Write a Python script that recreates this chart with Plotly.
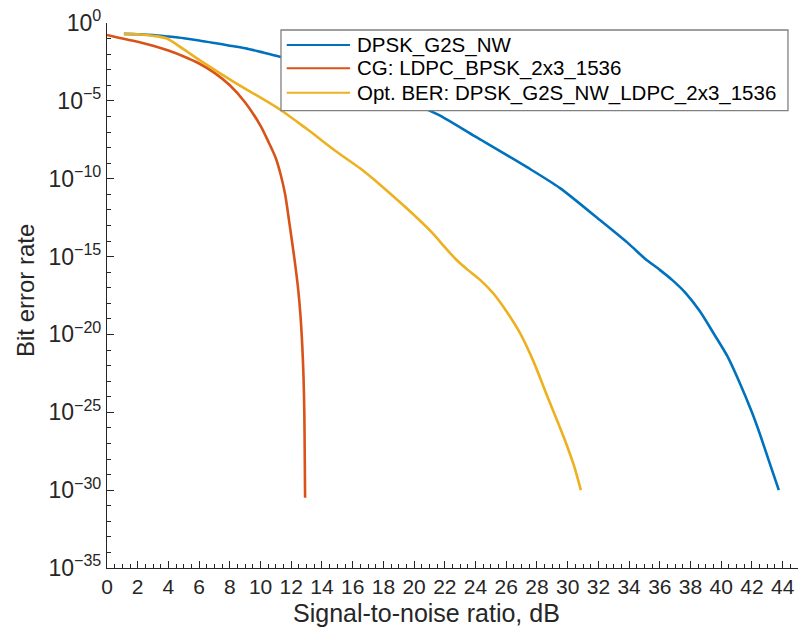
import plotly.graph_objects as go

# ---- data ----
snr_dpsk = [1.1, 2, 3, 4, 5, 6, 7, 8, 9, 10, 11.26, 13, 15, 17, 19, 21.5, 24, 27.3,
            29.5, 32.1, 34, 35, 36, 36.8, 37.7, 38.6, 39.5, 40.4, 41.2, 42, 42.5, 43.1, 43.75]
ber_dpsk = [2.0e-1, 1.9e-1, 1.7e-1, 1.35e-1, 1.05e-1, 7.6e-2, 5.2e-2, 3.5e-2, 2.4e-2,
            1.4e-2, 6.9e-3, 2.2e-3, 5.0e-4, 1.0e-4, 1.6e-5, 1.4e-6, 5.0e-8, 5.9e-10,
            2.5e-11, 2.2e-13, 6.3e-15, 7.9e-16, 1.4e-16, 3.2e-17, 4.4e-18, 3.2e-19,
            1.2e-20, 4.0e-22, 7.9e-24, 1.0e-25, 4.5e-27, 7.9e-29, 1.0e-30]

snr_cg = [0, 1, 2, 3, 4, 5, 6, 7, 8, 9, 10, 10.5, 11, 11.3, 11.6, 11.9, 12.2, 12.45,
          12.6, 12.72, 12.8, 12.85, 12.88, 12.9]
ber_cg = [1.7e-1, 1.0e-1, 6.3e-2, 3.5e-2, 1.7e-2, 7.1e-3, 2.5e-3, 6.3e-4, 1.0e-4,
          7.9e-6, 2.5e-7, 2.5e-8, 2.0e-9, 2.0e-10, 1.0e-11, 1.0e-13, 7.9e-16, 7.9e-18,
          1.6e-19, 1.6e-21, 1.6e-23, 1.0e-25, 1.0e-28, 3.2e-31]

snr_opt = [1.1, 2, 3, 3.9, 5, 6.05, 8.2, 11.26, 13, 15, 16.5, 17.8, 19.5, 21.2, 22,
           22.8, 23.5, 24.3, 25.15, 26, 26.9, 27.8, 28.6, 29.3, 29.9, 30.4, 30.86]
ber_opt = [2.0e-1, 1.9e-1, 1.5e-1, 1.0e-1, 2.0e-2, 4.0e-3, 1.8e-4, 2.8e-6, 1.6e-7,
           5.0e-9, 4.5e-10, 4.0e-11, 1.3e-12, 3.2e-14, 4.0e-15, 5.6e-16, 1.4e-16,
           3.2e-17, 4.4e-18, 3.2e-19, 1.2e-20, 1.6e-22, 1.6e-24, 3.2e-26, 1.0e-27,
           4.0e-29, 1.0e-30]

names = ["DPSK_G2S_NW", "CG: LDPC_BPSK_2x3_1536", "Opt. BER: DPSK_G2S_NW_LDPC_2x3_1536"]
colors = ["#0072BD", "#D95319", "#EDB120"]

x_ticks = list(range(0, 46, 2))
y_exps = [0, -5, -10, -15, -20, -25, -30, -35]
y_minor_exps = list(range(0, -36, -1))

FONT = "Liberation Sans, Arial, Helvetica, sans-serif"
AX = "#262626"

fig = go.Figure()
for xs, ys, nm, c in [(snr_dpsk, ber_dpsk, names[0], colors[0]),
                      (snr_cg, ber_cg, names[1], colors[1]),
                      (snr_opt, ber_opt, names[2], colors[2])]:
    fig.add_trace(go.Scatter(x=xs, y=ys, mode="lines", name=nm, showlegend=False,
                             line=dict(color=c, width=2.6, shape="spline",
                                       smoothing=0.8)))

def sup(e):
    return "10<sup>" + (str(e) if e >= 0 else "\u2212" + str(-e)) + "</sup>"

# legend box (drawn in paper coordinates, like the reference's boxed legend)
shapes = [dict(type="rect", xref="paper", yref="paper", x0=0.2518, x1=0.9855,
               y0=0.8391, y1=0.9872, fillcolor="white",
               line=dict(color="#808080", width=1.3), layer="above")]
annotations = []
row_y = [0.9596, 0.9168, 0.8721]
for nm, c, yy in zip(names, colors, row_y):
    shapes.append(dict(type="line", xref="paper", yref="paper", x0=0.2601, x1=0.3517,
                       y0=yy, y1=yy, line=dict(color=c, width=2), layer="above"))
    annotations.append(dict(text=nm, xref="paper", yref="paper", x=0.3589, y=yy,
                            xanchor="left", yanchor="middle", showarrow=False,
                            font=dict(size=20.5, color="#000000")))

annotations += [
    dict(text="Signal-to-noise ratio, dB", xref="paper", yref="paper",
         x=0.4617, y=-0.082, xanchor="center", yanchor="middle",
         showarrow=False, font=dict(size=25, color=AX)),
    dict(text="Bit error rate", xref="paper", yref="paper",
         x=-0.1187, y=0.51, xanchor="center", yanchor="middle", textangle=-90,
         showarrow=False, font=dict(size=24, color=AX)),
]

fig.update_layout(
    width=804, height=637,
    margin=dict(l=107, r=6, t=23, b=69, autoexpand=False),
    paper_bgcolor="white", plot_bgcolor="white",
    font=dict(family=FONT, size=21, color=AX),
    showlegend=False,
    xaxis=dict(range=[0, 45], tickvals=x_ticks, ticks="inside", ticklen=7,
               tickwidth=1, tickcolor=AX, showline=True, linecolor=AX,
               linewidth=1.2, showgrid=False, zeroline=False, automargin=False,
               tickfont=dict(size=21, color=AX),
               minor=dict(dtick=0.5, ticks="inside", ticklen=3.5, tickcolor=AX,
                          showgrid=False)),
    yaxis=dict(type="log", range=[-35, 0],
               tickvals=[10.0 ** e for e in y_exps],
               ticktext=[sup(e) for e in y_exps],
               ticks="inside", ticklen=7, tickwidth=1, tickcolor=AX,
               showline=True, linecolor=AX, linewidth=1.2, automargin=False,
               showgrid=False, zeroline=False,
               tickfont=dict(size=23, color=AX),
               minor=dict(tickvals=[10.0 ** e for e in y_minor_exps], ticks="inside",
                          ticklen=3.5, tickcolor=AX, showgrid=False)),
    shapes=shapes,
    annotations=annotations,
)

fig.write_html("out.html",
               config={"displayModeBar": False},
               post_script="document.body.style.margin='0px';"
                           "document.body.style.overflow='hidden';")
